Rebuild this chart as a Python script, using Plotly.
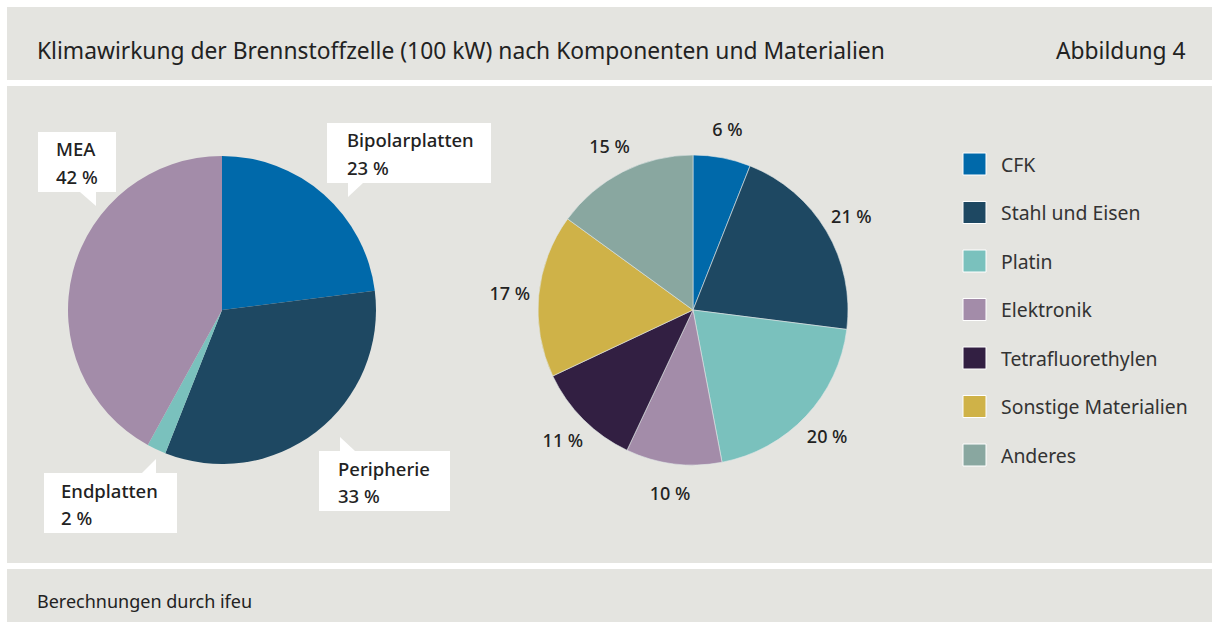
import plotly.graph_objects as go

# Daten
komponenten = ["Bipolarplatten", "Peripherie", "Endplatten", "MEA"]
komponenten_anteil = [23, 33, 2, 42]
komponenten_farben = ["#0069aa", "#1e4862", "#7ac1bd", "#a38ca9"]

materialien = ["CFK", "Stahl und Eisen", "Platin", "Elektronik",
               "Tetrafluorethylen", "Sonstige Materialien", "Anderes"]
materialien_anteil = [6, 21, 20, 10, 11, 17, 15]
materialien_farben = ["#0069aa", "#1e4862", "#7ac1bd", "#a38ca9",
                      "#321f42", "#cfb248", "#89a7a0"]

titel = "Klimawirkung der Brennstoffzelle (100 kW) nach Komponenten und Materialien"
abbildung = "Abbildung 4"
quelle = "Berechnungen durch ifeu"

W, H = 1212, 622
GRAU = "#e4e4e0"
TEXT = "#222222"
FONT = "Noto Sans"


def px(x):
    return x / W


def py(y):
    return 1 - y / H


def rect(x0, y0, x1, y1, color, layer="below", line=None):
    return dict(type="rect", xref="paper", yref="paper",
                x0=px(x0), x1=px(x1), y0=py(y1), y1=py(y0),
                fillcolor=color, line=line or dict(width=0), layer=layer)


def tri(pts, color):
    path = "M " + " L ".join(f"{px(x)},{py(y)}" for x, y in pts) + " Z"
    return dict(type="path", xref="paper", yref="paper", path=path,
                fillcolor=color, line=dict(width=0), layer="below")


fig = go.Figure()

fig.add_trace(go.Pie(
    labels=komponenten, values=komponenten_anteil,
    marker=dict(colors=komponenten_farben, line=dict(width=0)),
    sort=False, direction="clockwise", rotation=0,
    textinfo="none", hoverinfo="label+percent",
    domain=dict(x=[px(68), px(376)], y=[py(464), py(156)]),
    showlegend=False))

fig.add_trace(go.Pie(
    labels=materialien, values=materialien_anteil,
    marker=dict(colors=materialien_farben, line=dict(width=0.6, color="#dfe6e6")),
    sort=False, direction="clockwise", rotation=0,
    textinfo="none", hoverinfo="label+percent",
    domain=dict(x=[px(538), px(848)], y=[py(465), py(155)]),
    showlegend=False))

# unsichtbarer Ring fuer die Beschriftung ausserhalb des rechten Kreises
R_AUSSEN = 213
fig.add_trace(go.Pie(
    labels=materialien, values=materialien_anteil,
    marker=dict(colors=["rgba(0,0,0,0)"] * len(materialien), line=dict(width=0)),
    sort=False, direction="clockwise", rotation=0, hole=155 / R_AUSSEN,
    texttemplate="%{value} %", textposition="inside",
    insidetextorientation="horizontal",
    insidetextfont=dict(family=FONT, size=18, color=TEXT, weight=500),
    hoverinfo="skip",
    domain=dict(x=[px(693 - R_AUSSEN), px(693 + R_AUSSEN)],
                y=[py(310 + R_AUSSEN), py(310 - R_AUSSEN)]),
    showlegend=False))

shapes = [
    rect(7, 7, W, 80, GRAU),
    rect(7, 86, W, 563, GRAU),
    rect(7, 569, W, H, GRAU),
]

annotations = [
    dict(text=titel, x=px(35), y=py(51), xanchor="left", yanchor="middle",
         font=dict(family=FONT, size=22.8, color=TEXT)),
    dict(text=abbildung, x=px(1188), y=py(51), xanchor="right", yanchor="middle",
         font=dict(family=FONT, size=22.8, color=TEXT)),
    dict(text=quelle, x=px(35), y=py(601), xanchor="left", yanchor="middle",
         font=dict(family=FONT, size=18, color=TEXT)),
]

# Callouts fuer den linken Kreis: Box (x0, y0, x1, y1), Zeiger, Textanfang
callouts = {
    "Bipolarplatten": ((327, 123, 491, 183), [(348, 183), (363, 183), (348, 197)], 345),
    "Peripherie": ((319, 451, 450, 511), [(340, 451), (355, 451), (340, 437)], 336),
    "Endplatten": ((44, 473, 177, 533), [(142, 473), (156, 473), (156, 459)], 59),
    "MEA": ((38, 132, 116, 192), [(80, 192), (96, 192), (96, 206)], 54),
}
for name, wert in zip(komponenten, komponenten_anteil):
    (x0, y0, x1, y1), zeiger, tx = callouts[name]
    shapes.append(rect(x0, y0, x1, y1, "white"))
    shapes.append(tri(zeiger, "white"))
    for i, zeile in enumerate([name, f"{wert} %"]):
        annotations.append(dict(
            text=zeile, x=px(tx), y=py(y0 + 17 + 27 * i),
            xanchor="left", yanchor="middle",
            font=dict(family=FONT, size=18.5, color=TEXT, weight=500)))

# Legende
for i, (name, farbe) in enumerate(zip(materialien, materialien_farben)):
    yc = 164 + 48.5 * i
    shapes.append(rect(963, yc - 11, 986, yc + 11, farbe, layer="above",
                       line=dict(color="white", width=1)))
    annotations.append(dict(
        text=name, x=px(999), y=py(yc), xanchor="left", yanchor="middle",
        font=dict(family=FONT, size=19.4, color="#333333")))

for a in annotations:
    a.update(xref="paper", yref="paper", showarrow=False)

fig.update_layout(
    width=W, height=H,
    margin=dict(l=0, r=0, t=0, b=0),
    paper_bgcolor="white",
    font=dict(family=FONT, color=TEXT),
    shapes=shapes,
    annotations=annotations,
)

fig.write_html("out.html", config={"displayModeBar": False},
               post_script="document.body.style.margin='0px';")
